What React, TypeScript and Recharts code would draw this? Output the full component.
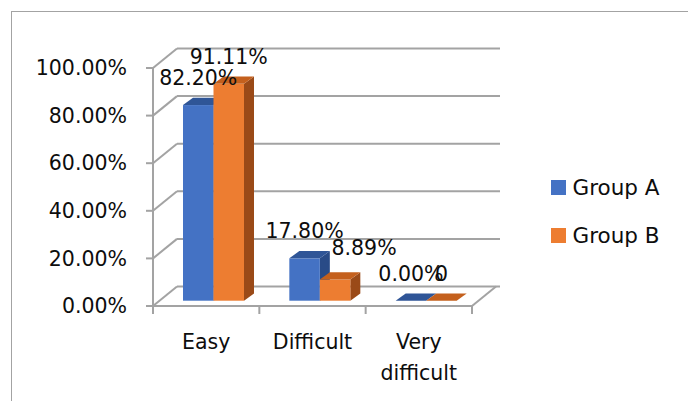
import React from "react";
import { BarChart, Bar, XAxis, YAxis, CartesianGrid, Legend, LabelList, Text } from "recharts";

const categories = ["Easy", "Difficult", "Very difficult"];
const groupA = [0.822, 0.178, 0];
const groupB = [0.9111, 0.0889, 0];
const yTicks = [0, 0.2, 0.4, 0.6, 0.8, 1];

const data = categories.map((category, i) => ({
  category,
  groupA: groupA[i],
  groupB: groupB[i],
}));

const FONT = "'DejaVu Sans', sans-serif";
const INK = "#0d0d0d";
const GRID = "#a3a3a3";

const W = 688;
const H = 401;
const MARGIN = { top: 68, right: 216, bottom: 65, left: 0 };
const Y_AXIS_W = 153;
const X_AXIS_H = 30;
const PLOT_LEFT = MARGIN.left + Y_AXIS_W;
const PLOT_RIGHT = W - MARGIN.right;
const PLOT_BOTTOM = H - MARGIN.bottom - X_AXIS_H;
const BAND = (PLOT_RIGHT - PLOT_LEFT) / categories.length;

// fake 3d: back wall offset, plane the bars stand in, and bar depth
const WALL = { dx: 24, dy: -19.5 };
const PLANE = { dx: 7, dy: -5.3 };
const DEPTH = { dx: 10, dy: -7.3 };

const COLORS = {
  groupA: { front: "#4472c4", top: "#2f5597", side: "#294b87" },
  groupB: { front: "#ed7d31", top: "#c4601d", side: "#9a4a18" },
};

type Faces = { front: string; top: string; side: string };

function Block(props: any & { faces: Faces }) {
  const { x, y, width, height, faces } = props;
  const x0 = x + PLANE.dx;
  const y0 = y + PLANE.dy;
  const x1 = x0 + width;
  const y1 = y0 + height;
  const { dx, dy } = DEPTH;
  return (
    <g>
      <polygon
        points={`${x1},${y0} ${x1 + dx},${y0 + dy} ${x1 + dx},${y1 + dy} ${x1},${y1}`}
        fill={faces.side}
      />
      <rect x={x0} y={y0} width={width} height={height} fill={faces.front} />
      <polygon
        points={`${x0},${y0} ${x1},${y0} ${x1 + dx},${y0 + dy} ${x0 + dx},${y0 + dy}`}
        fill={faces.top}
      />
    </g>
  );
}

// gridline on the back wall plus the slanted joint to the front axis
function wallLine(p: any) {
  const { x1, y1, x2 } = p;
  const bx = x1 + WALL.dx;
  const by = y1 + WALL.dy;
  const isFloor = Math.abs(y1 - PLOT_BOTTOM) < 1;
  return (
    <g key={p.key} stroke={GRID} strokeWidth={2} fill="none">
      <line x1={x1} y1={y1} x2={bx} y2={by} />
      <line x1={bx} y1={by} x2={x2 + 28} y2={by} />
      {isFloor && <line x1={x2} y1={y1} x2={x2 + WALL.dx} y2={by} />}
    </g>
  );
}

function CategoryTick(props: any) {
  const { x, index, payload } = props;
  const left = x - BAND / 2;
  return (
    <g>
      <line x1={left} y1={PLOT_BOTTOM} x2={left} y2={PLOT_BOTTOM + 8} stroke={GRID} strokeWidth={2} />
      {index === categories.length - 1 && (
        <line
          x1={left + BAND}
          y1={PLOT_BOTTOM}
          x2={left + BAND}
          y2={PLOT_BOTTOM + 8}
          stroke={GRID}
          strokeWidth={2}
        />
      )}
      <Text
        x={x}
        y={PLOT_BOTTOM + 28.4}
        width={BAND - 6}
        textAnchor="middle"
        verticalAnchor="start"
        lineHeight={31.4}
        fill={INK}
        style={{ fontFamily: FONT, fontSize: 20.5 }}
      >
        {payload.value}
      </Text>
    </g>
  );
}

const pct = (v: number) => `${(v * 100).toFixed(2)}%`;

function valueLabel(series: "groupA" | "groupB") {
  return (props: any) => {
    const vb = props.viewBox ?? props;
    const v = Number(props.value);
    const text = series === "groupB" && v === 0 ? "0" : pct(v);
    let cx = vb.x + vb.width / 2 + PLANE.dx;
    let base = vb.y + PLANE.dy - 20;
    // the small orange label is pushed aside so it clears its neighbour
    if (series === "groupB" && props.index === 1) {
      cx += 29;
      base -= 4.6;
    }
    return (
      <text
        key={`${series}-${props.index}`}
        x={cx}
        y={base}
        textAnchor="middle"
        fill={INK}
        style={{ fontFamily: FONT, fontSize: 20.5 }}
      >
        {text}
      </text>
    );
  };
}

function LegendBox(props: any) {
  const items = props.payload ?? [];
  return (
    <div style={{ fontFamily: FONT, fontSize: 21.5, color: INK }}>
      {items.map((it: any) => (
        <div key={it.value} style={{ height: 48, display: "flex", alignItems: "center" }}>
          <span style={{ width: 15, height: 15, background: it.color, marginRight: 6.5, display: "inline-block" }} />
          <span>{it.value}</span>
        </div>
      ))}
    </div>
  );
}

export default function App() {
  return (
    <div style={{ position: "absolute", left: 0, top: 0, width: W, height: H, background: "#fff" }}>
      <div
        style={{
          position: "absolute",
          left: 11,
          top: 11,
          width: W,
          height: H,
          borderTop: `1.5px solid ${GRID}`,
          borderLeft: `1.5px solid ${GRID}`,
        }}
      />
      <BarChart width={W} height={H} data={data} margin={MARGIN} barGap={0} barSize={30.5}>
        <CartesianGrid vertical={false} horizontal={wallLine} />
        <XAxis
          dataKey="category"
          height={X_AXIS_H}
          interval={0}
          tickLine={false}
          axisLine={{ stroke: GRID, strokeWidth: 2 }}
          tick={<CategoryTick />}
        />
        <YAxis
          width={Y_AXIS_W}
          domain={[0, 1]}
          ticks={yTicks}
          interval={0}
          tickSize={7}
          tickMargin={19}
          tickFormatter={pct}
          axisLine={{ stroke: GRID, strokeWidth: 2 }}
          tickLine={{ stroke: GRID, strokeWidth: 2 }}
          tick={{ fill: INK, fontSize: 20.5, fontFamily: FONT }}
        />
        <Legend
          layout="vertical"
          align="center"
          verticalAlign="middle"
          content={<LegendBox />}
          wrapperStyle={{ left: 551, top: 163.5, width: 130 }}
        />
        <Bar
          dataKey="groupA"
          name="Group A"
          fill={COLORS.groupA.front}
          isAnimationActive={false}
          shape={(p: any) => <Block {...p} faces={COLORS.groupA} />}
        >
          <LabelList dataKey="groupA" content={valueLabel("groupA")} />
        </Bar>
        <Bar
          dataKey="groupB"
          name="Group B"
          fill={COLORS.groupB.front}
          isAnimationActive={false}
          shape={(p: any) => <Block {...p} faces={COLORS.groupB} />}
        >
          <LabelList dataKey="groupB" content={valueLabel("groupB")} />
        </Bar>
      </BarChart>
    </div>
  );
}
